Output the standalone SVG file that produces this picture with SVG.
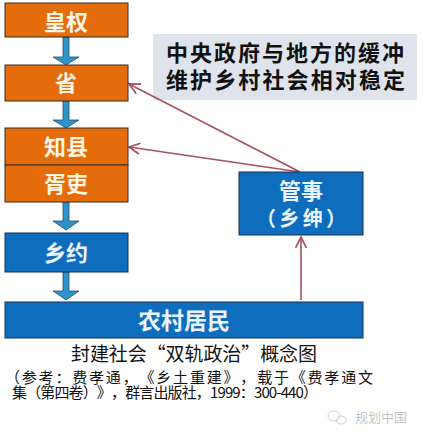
<svg xmlns="http://www.w3.org/2000/svg" width="423" height="440" viewBox="0 0 423 440">
<defs>
<style>
text{text-spacing-trim:space-all}
.org{fill:#E46C0A;stroke:#3b2a1e;stroke-width:1}
.blu{fill:#0F6DBE;stroke:#16324f;stroke-width:1}
.bt{font-family:"Noto Sans CJK SC","Noto Sans",sans-serif;font-weight:bold;fill:#FFF6E6;text-anchor:middle}
.bw{font-family:"Noto Sans CJK SC","Noto Sans",sans-serif;font-weight:bold;fill:#EAF4FF;text-anchor:middle}
.dn{fill:#2E93C9;stroke:#1f4f72;stroke-width:0.8}
.rl{stroke:#A8505E;stroke-width:1.6;fill:none}
.cap{font-family:"Noto Sans CJK SC","Noto Sans",sans-serif;fill:#111}
</style>
<marker id="ah" viewBox="0 0 12 12" refX="11" refY="6" markerWidth="13" markerHeight="13" markerUnits="userSpaceOnUse" orient="auto">
<path d="M1,1 L11,6 L1,11" fill="none" stroke="#A8505E" stroke-width="1.6"/>
</marker>
</defs>
<rect width="423" height="440" fill="#ffffff"/>

<g id="title">
<rect x="153" y="34" width="264" height="66" fill="#DEE3EC"/>
<text x="166" y="61" class="cap" font-size="22" font-weight="bold" textLength="238" lengthAdjust="spacing">中央政府与地方的缓冲</text>
<text x="166" y="88" class="cap" font-size="22" font-weight="bold" textLength="239" lengthAdjust="spacing">维护乡村社会相对稳定</text>
</g>

<g id="connectors">
<polygon class="dn" points="63,37 69,37 69,57 79,57 66,65 53,57 63,57"/>
<polygon class="dn" points="63,101 69,101 69,120 79,120 66,128 53,120 63,120"/>
<polygon class="dn" points="63,202 69,202 69,221 79,221 66,230 53,221 63,221"/>
<polygon class="dn" points="63,272 69,272 69,291 79,291 66,300 53,291 63,291"/>
<line class="rl" x1="300" y1="172" x2="129" y2="84" marker-end="url(#ah)"/>
<line class="rl" x1="300" y1="172" x2="129" y2="147" marker-end="url(#ah)"/>
<line class="rl" x1="301" y1="300" x2="301" y2="237" marker-end="url(#ah)"/>
</g>

<g id="huangquan">
<rect class="org" x="5" y="3" width="123" height="34"/>
<text class="bt" x="66" y="30" font-size="22">皇权</text>
</g>
<g id="sheng">
<rect class="org" x="5" y="65" width="123" height="36"/>
<text class="bt" x="66" y="91" font-size="22">省</text>
</g>
<g id="zhixian">
<rect class="org" x="5" y="128" width="123" height="37"/>
<text class="bt" x="66" y="155" font-size="22">知县</text>
</g>
<g id="xuli">
<rect class="org" x="5" y="165" width="123" height="37"/>
<text class="bt" x="66" y="192" font-size="22">胥吏</text>
</g>
<g id="xiangyue">
<rect class="blu" x="5" y="233" width="123" height="39"/>
<text class="bw" x="66" y="261" font-size="22">乡约</text>
</g>
<g id="nongcun">
<rect class="blu" x="5" y="302" width="358" height="36"/>
<text class="bw" x="184" y="329" font-size="23">农村居民</text>
</g>
<g id="guanshi">
<rect class="blu" x="239" y="172" width="124" height="63"/>
<text class="bw" x="301" y="199" font-size="22">管事</text>
<text class="bw" x="301" y="226" font-size="20" textLength="90" lengthAdjust="spacing">（乡绅）</text>
</g>

<g id="caption">
<text class="cap" x="71" y="361" font-size="19" textLength="246" lengthAdjust="spacing">封建社会“双轨政治”概念图</text>
<text class="cap" x="5" y="383" font-size="15" textLength="368" lengthAdjust="spacing">（参考：费孝通，《乡土重建》，载于《费孝通文</text>
<text class="cap" x="12" y="398" font-size="15" textLength="306" lengthAdjust="spacing">集（第四卷）》，群言出版社，1999：300-440）</text>
</g>

<g id="watermark">
<ellipse cx="334" cy="416" rx="6" ry="5" fill="none" stroke="#cfcfcf" stroke-width="1"/>
<ellipse cx="341" cy="420" rx="5" ry="4" fill="none" stroke="#cfcfcf" stroke-width="1"/>
<text x="355" y="422" font-family="Noto Sans CJK SC,sans-serif" font-size="13" fill="#c4c4c4">规划中国</text>
</g>
</svg>
